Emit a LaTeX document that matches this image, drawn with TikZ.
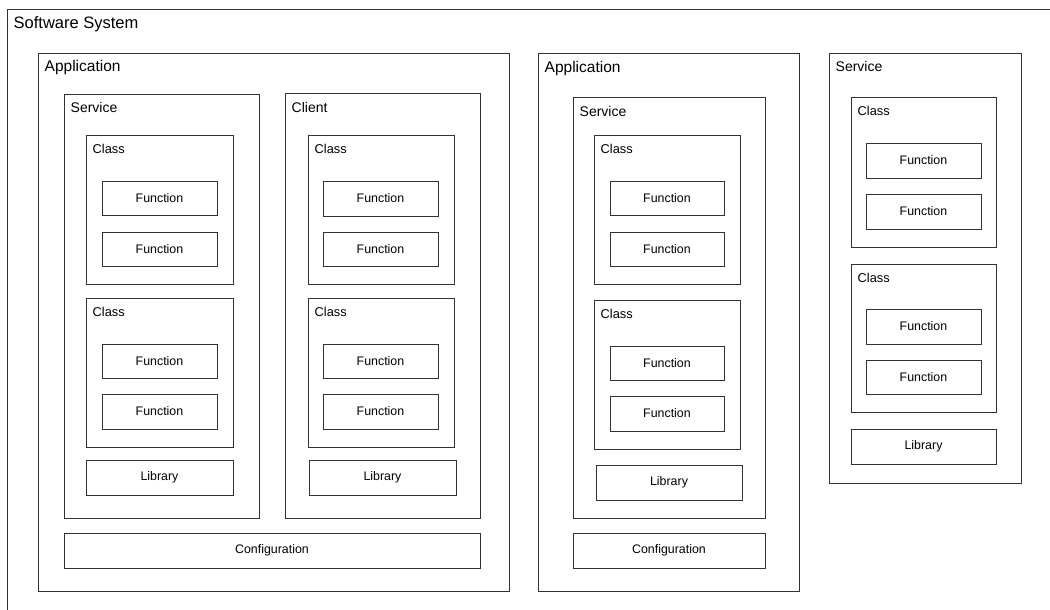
\documentclass[tikz,border=0pt]{standalone}
\usepackage{fontspec}
\setmainfont{Liberation Sans}
\tikzset{
  x=1pt, y=-1pt,
  frame/.style={draw=black!80, line width=0.9pt, anchor=north west,
    inner sep=0pt, outer sep=0pt},
  title/.style={anchor=base west, inner sep=0pt},
  leafbox/.style={frame, align=center},
  leaftext/.style={font=\fontsize{12.4}{14}\selectfont, inner sep=0pt},
}
% container box with a title in its top left corner:
% name, x1, y1, x2, y2, title, font size, baseline drop
\newcommand\container[8]{%
  \node[frame, minimum width={#4-#2}, minimum height={#5-#3}] (#1) at (#2,#3) {};
  \node[title, font=\fontsize{#7}{#7}\selectfont] (#1-t)
    at ([xshift=6.5pt,yshift=-#8pt]#1.north west) {#6};
}
% plain box with centred text: name, x1, y1, x2, y2, text
\newcommand\leaf[6]{%
  \node[leafbox, minimum width={#4-#2}, minimum height={#5-#3}] (#1) at (#2,#3) {};
  \node[leaftext] (#1-t) at (#1.center) {#6};
}
\begin{document}
\begin{tikzpicture}
\path[use as bounding box] (0,0) rectangle (1050,610);
\clip (0,0) rectangle (1050,610);

% the whole system
\container{sys}{7}{9}{1064}{624}{Software System}{16.5}{20}

% first application
\container{appA}{38}{53}{509}{591}{Application}{15.5}{18.5}
\container{svcA}{64}{94}{259}{518}{Service}{14}{19}
\container{clsA1}{86}{135}{233}{284}{Class}{12.8}{18}
\leaf{fA11}{102}{181}{217}{215}{Function}
\leaf{fA12}{102}{232}{217}{266}{Function}
\container{clsA2}{86}{298}{233}{447}{Class}{12.8}{18}
\leaf{fA21}{102}{344}{217}{378}{Function}
\leaf{fA22}{102}{394}{217}{429}{Function}
\leaf{libA}{86}{460}{233}{495}{Library}

\container{cli}{285}{93}{480}{518}{Client}{14}{19}
\container{clsC1}{308}{135}{454}{284}{Class}{12.8}{18}
\leaf{fC11}{323}{181}{438}{216}{Function}
\leaf{fC12}{323}{232}{438}{266}{Function}
\container{clsC2}{308}{298}{454}{447}{Class}{12.8}{18}
\leaf{fC21}{323}{344}{438}{378}{Function}
\leaf{fC22}{323}{394}{438}{429}{Function}
\leaf{libC}{309}{460}{456}{495}{Library}

\leaf{cfgA}{64}{533}{480}{568}{Configuration}

% second application
\container{appB}{538}{53}{799}{591}{Application}{15.5}{19.5}
\container{svcB}{573}{97}{765}{518}{Service}{14}{19}
\container{clsB1}{594}{135}{740}{284}{Class}{12.8}{18}
\leaf{fB11}{610}{181}{724}{215}{Function}
\leaf{fB12}{610}{232}{724}{266}{Function}
\container{clsB2}{594}{300}{740}{449}{Class}{12.8}{18}
\leaf{fB21}{610}{346}{724}{380}{Function}
\leaf{fB22}{610}{396}{724}{431}{Function}
\leaf{libB}{596}{465}{742}{500}{Library}
\leaf{cfgB}{573}{533}{765}{568}{Configuration}

% stand-alone service
\container{svcS}{829}{53}{1021}{483}{Service}{14}{18}
\container{clsS1}{851}{97}{996}{247}{Class}{12.8}{18}
\leaf{fS11}{866}{143}{981}{178}{Function}
\leaf{fS12}{866}{194}{981}{229}{Function}
\container{clsS2}{851}{264}{996}{412}{Class}{12.8}{18}
\leaf{fS21}{866}{309}{981}{344}{Function}
\leaf{fS22}{866}{360}{981}{394}{Function}
\leaf{libS}{851}{429}{996}{464}{Library}
\end{tikzpicture}
\end{document}
